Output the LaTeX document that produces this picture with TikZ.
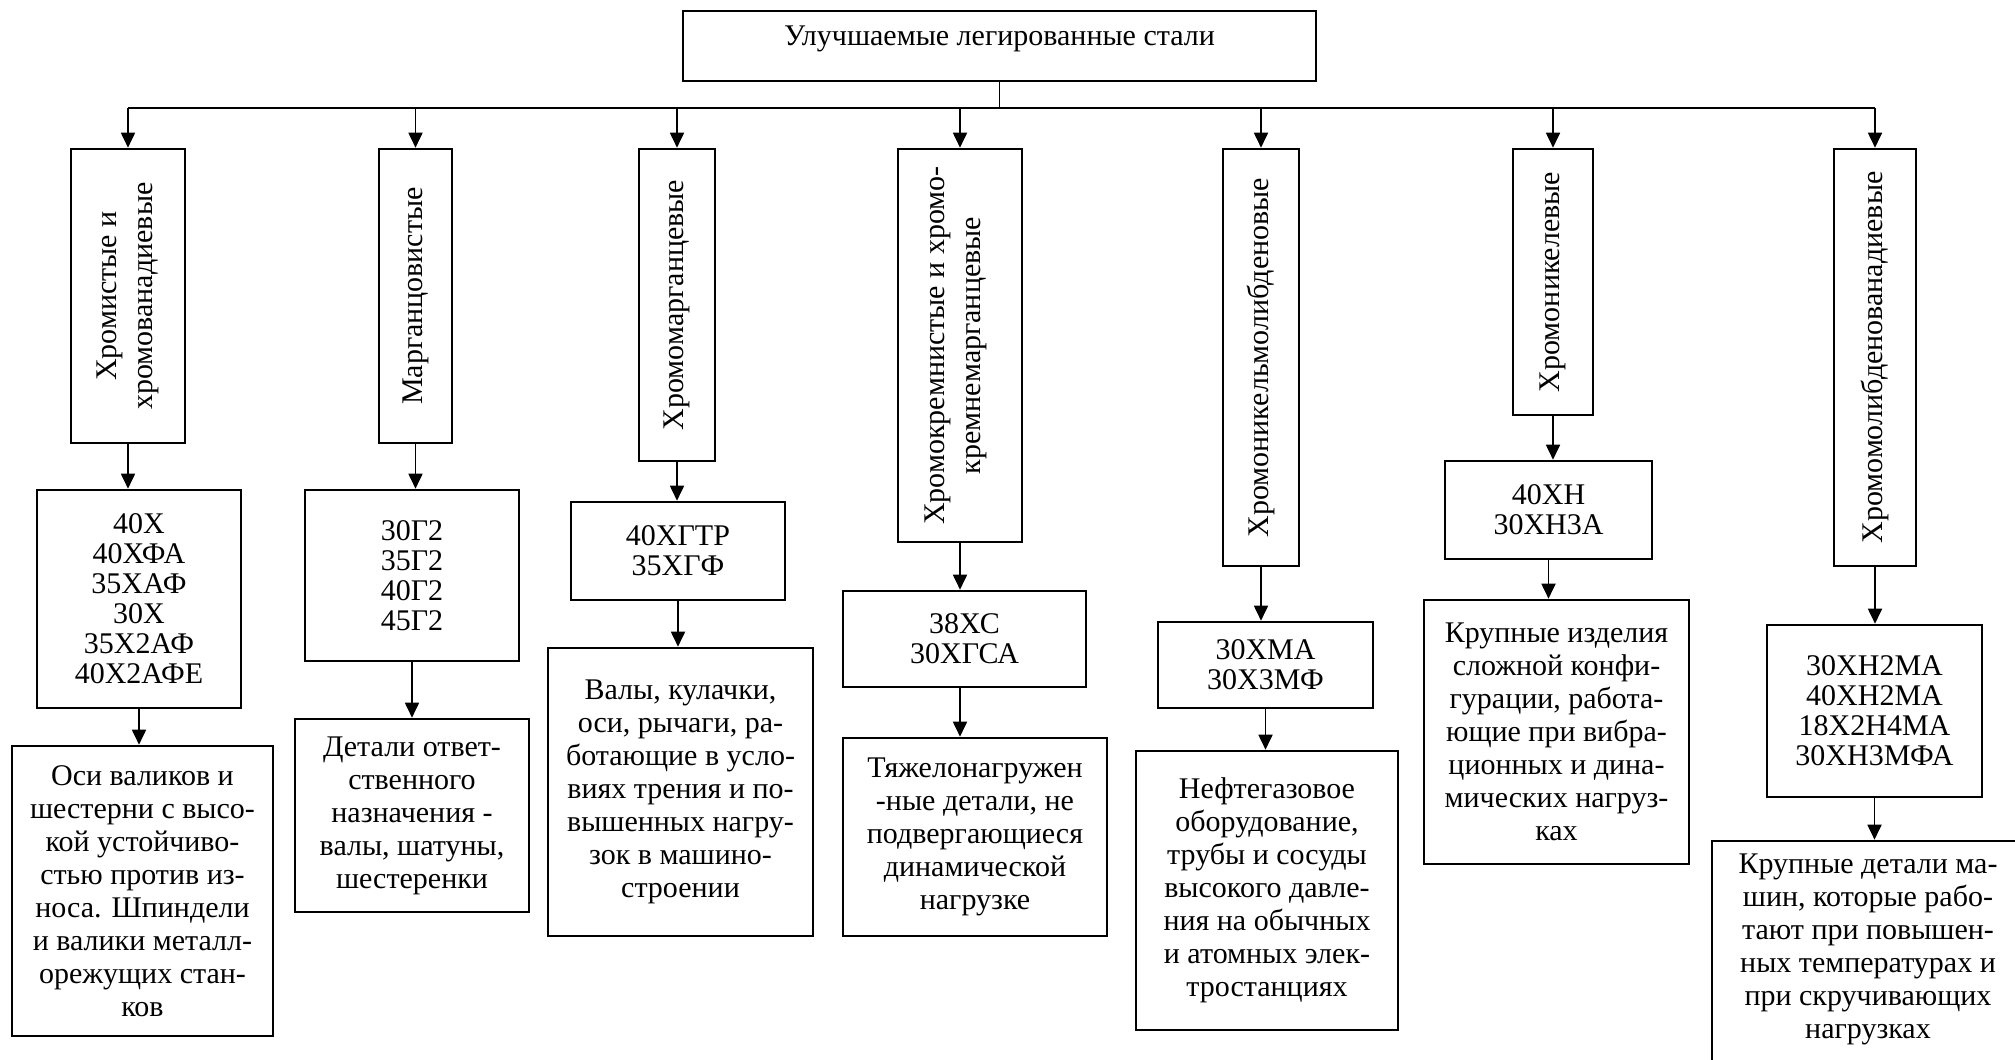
\documentclass[tikz,border=0pt]{standalone}
\usepackage{fontspec}
\setmainfont{Liberation Serif}
\usetikzlibrary{arrows.meta,fit}
\begin{document}
\begin{tikzpicture}[x=0.5pt,y=-0.5pt,
  box/.style={draw, line width=1.3pt, inner sep=0pt},
  lbl/.style={font=\fontsize{15}{15}\selectfont, align=center, inner sep=0pt},
  dlbl/.style={font=\fontsize{15}{16.5}\selectfont, align=center, inner sep=0pt},
  vlbl/.style={font=\fontsize{15}{18}\selectfont, align=center, rotate=90, inner sep=0pt},
  link/.style={line width=0.9pt},
  arr/.style={link, -{Triangle[length=7.5pt,width=7pt]}}]
\useasboundingbox (0,0) rectangle (2015,1060);
\clip (0,0) rectangle (2015,1060);

% root
\node[box, fit={(683,11) (1316,81)}] (top) {};
\node[lbl] (toptext) at (999.5,39) {Улучшаемые легированные стали};
\coordinate (bus) at (0,108);

% group headers (vertical captions)
\node[box, fit={(71,149) (185,443)}]   (h1) {};
\node[box, fit={(379,149) (452,443)}]  (h2) {};
\node[box, fit={(639,149) (715,461)}]  (h3) {};
\node[box, fit={(898,149) (1022,542)}] (h4) {};
\node[box, fit={(1223,149) (1299,566)}] (h5) {};
\node[box, fit={(1513,149) (1593,415)}] (h6) {};
\node[box, fit={(1834,149) (1916,566)}] (h7) {};
\node[vlbl] (h1t) at (h1) {Хромистые и\\хромованадиевые};
\node[vlbl] (h2t) at (h2) {Марганцовистые};
\node[vlbl] (h3t) at (h3) {Хромомарганцевые};
\node[vlbl] (h4t) at ([xshift=-2pt]h4.center) {Хромокремнистые и хромо-\\кремнемарганцевые};
\node[vlbl] (h5t) at (h5) {Хромоникельмолибденовые};
\node[vlbl] (h6t) at (h6) {Хромоникелевые};
\node[vlbl] (h7t) at (h7) {Хромомолибденованадиевые};

% steel grades
\node[box, fit={(37,490) (241,708)}]    (g1) {};
\node[box, fit={(305,490) (519,661)}]   (g2) {};
\node[box, fit={(571,502) (785,600)}]   (g3) {};
\node[box, fit={(843,591) (1086,687)}]  (g4) {};
\node[box, fit={(1158,622) (1373,708)}] (g5) {};
\node[box, fit={(1445,461) (1652,559)}] (g6) {};
\node[box, fit={(1767,625) (1982,797)}] (g7) {};
\node[lbl] (g1t) at (g1) {40Х\\40ХФА\\35ХАФ\\30Х\\35Х2АФ\\40Х2АФЕ};
\node[lbl] (g2t) at (g2) {30Г2\\35Г2\\40Г2\\45Г2};
\node[lbl] (g3t) at (g3) {40ХГТР\\35ХГФ};
\node[lbl] (g4t) at (g4) {38ХС\\30ХГСА};
\node[lbl] (g5t) at (g5) {30ХМА\\30Х3МФ};
\node[lbl] (g6t) at (g6) {40ХН\\30ХН3А};
\node[lbl] (g7t) at (g7) {30ХН2МА\\40ХН2МА\\18Х2Н4МА\\30ХН3МФА};

% applications
\node[box, fit={(12,746) (273,1036)}]    (d1) {};
\node[box, fit={(295,719) (529,912)}]    (d2) {};
\node[box, fit={(548,648) (813,936)}]    (d3) {};
\node[box, fit={(843,738) (1107,936)}]   (d4) {};
\node[box, fit={(1136,751) (1398,1030)}] (d5) {};
\node[box, fit={(1424,600) (1689,864)}]  (d6) {};
\node[box, fit={(1712,841) (2024,1100)}] (d7) {};
\node[dlbl] (d1t) at (d1) {Оси валиков и\\шестерни с высо-\\кой устойчиво-\\стью против из-\\носа. Шпиндели\\и валики металл-\\орежущих стан-\\ков};
\node[dlbl] (d2t) at (d2) {Детали ответ-\\ственного\\назначения -\\валы, шатуны,\\шестеренки};
\node[dlbl] (d3t) at (d3) {Валы, кулачки,\\оси, рычаги, ра-\\ботающие в усло-\\виях трения и по-\\вышенных нагру-\\зок в машино-\\строении};
\node[dlbl] (d4t) at (d4) {Тяжелонагружен\\{-}ные детали, не\\подвергающиеся\\динамической\\нагрузке};
\node[dlbl] (d5t) at (d5) {Нефтегазовое\\оборудование,\\трубы и сосуды\\высокого давле-\\ния на обычных\\и атомных элек-\\тростанциях};
\node[dlbl] (d6t) at (d6) {Крупные изделия\\сложной конфи-\\гурации, работа-\\ющие при вибра-\\ционных и дина-\\мических нагруз-\\ках};
\node[dlbl, anchor=north] (d7t) at ([yshift=-7pt]d7.north) {Крупные детали ма-\\шин, которые рабо-\\тают при повышен-\\ных температурах и\\при скручивающих\\нагрузках};

% connectors
\draw[link] (top.south) -- (top.south |- bus);
\draw[link] (h1.north |- bus) -- (h7.north |- bus);
\foreach \k in {1,...,7} {
  \draw[arr] (h\k.north |- bus) -- (h\k.north);
}
\foreach \k in {1,2,3,5,6,7} {
  \draw[arr] (h\k.south) -- (h\k.south |- g\k.north);
  \draw[arr] (g\k.south) -- (g\k.south |- d\k.north);
}
\draw[arr] (h4.south) -- (h4.south |- g4.north);
\draw[arr] (g4.south -| h4.south) -- (d4.north -| h4.south);
\end{tikzpicture}
\end{document}
